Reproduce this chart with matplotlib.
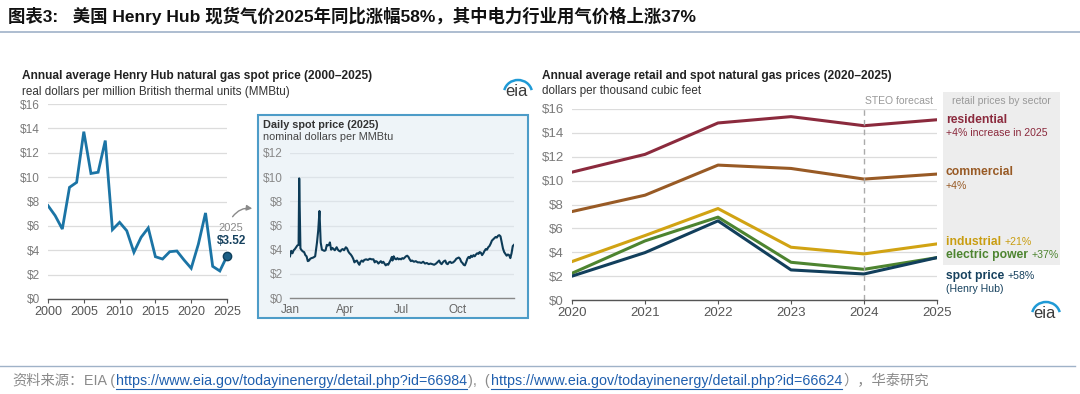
import matplotlib
matplotlib.use("Agg")
import matplotlib.pyplot as plt
from matplotlib.patches import Rectangle, FancyArrowPatch, Arc
from matplotlib.lines import Line2D

plt.rcParams['font.family'] = ['Liberation Sans', 'Noto Sans CJK SC', 'DejaVu Sans']

# ---- data ----
years = list(range(2000, 2026))
hh_real = [7.66, 6.84, 5.74, 9.16, 9.57, 13.73, 10.30, 10.40, 13.00, 5.69,
           6.29, 5.60, 3.83, 5.06, 5.83, 3.47, 3.28, 3.88, 3.94, 3.20,
           2.52, 4.50, 7.06, 2.68, 2.30, 3.52]

daily_day = [0, 2, 4, 6, 8, 10, 12, 14, 15, 17, 19, 21, 23, 25, 27, 29, 31, 33, 35, 38,
             41, 44, 46, 48, 50, 52, 54, 56, 58, 60, 62, 64, 65, 67, 69, 71, 73, 76, 78, 80,
             82, 84, 86, 88, 91, 93, 95, 97, 99, 101, 103, 105, 107, 109, 111, 113, 115, 117, 119, 121,
             124, 127, 130, 133, 136, 138, 140, 142, 144, 146, 148, 150, 152, 154, 156, 158, 160, 162, 164, 166,
             167, 169, 171, 173, 175, 177, 179, 181, 183, 185, 187, 189, 191, 193, 195, 197, 199, 202, 205, 208,
             211, 214, 217, 220, 223, 226, 229, 232, 235, 238, 241, 243, 245, 247, 249, 251, 253, 255, 257, 259,
             261, 263, 266, 269, 271, 273, 275, 277, 279, 281, 283, 285, 287, 289, 291, 293, 295, 297, 299, 301,
             303, 305, 307, 309, 311, 313, 315, 317, 319, 321, 323, 325, 327, 329, 331, 333, 335, 337, 339, 341,
             343, 345, 347, 349, 351, 353, 355, 357, 359, 361, 363, 365]
daily_price = [3.45, 3.90, 3.70, 3.95, 4.05, 4.20, 4.35, 4.40, 9.90, 4.10, 3.95, 3.85, 3.80, 3.55, 3.45, 3.05, 3.10, 3.25, 3.30, 3.35,
               3.45, 4.60, 5.60, 7.20, 4.60, 4.00, 3.95, 3.90, 3.95, 4.40, 4.35, 4.45, 4.60, 4.00, 4.15, 4.05, 3.95, 4.20, 4.00, 3.90,
               3.85, 4.00, 4.05, 3.95, 4.20, 4.10, 3.85, 3.70, 3.60, 3.45, 3.25, 2.95, 3.05, 3.10, 2.90, 2.75, 3.00, 3.10, 3.00, 3.15,
               3.20, 3.15, 3.25, 3.20, 3.20, 2.95, 3.05, 3.00, 2.85, 2.95, 3.05, 2.90, 3.00, 2.85, 2.70, 2.80, 2.75, 2.95, 3.15, 3.40,
               3.10, 3.45, 3.25, 3.20, 3.30, 3.20, 3.25, 3.20, 3.30, 3.25, 3.35, 3.45, 3.50, 3.40, 3.20, 3.05, 3.10, 3.00, 3.05, 2.95,
               2.95, 2.90, 3.00, 2.85, 2.90, 2.80, 2.85, 2.80, 2.75, 2.85, 3.00, 3.10, 2.90, 2.80, 2.95, 3.05, 3.10, 2.85, 2.80, 2.95,
               3.00, 2.90, 2.95, 3.10, 3.25, 3.30, 3.35, 3.25, 3.00, 2.90, 2.75, 2.70, 2.95, 3.25, 3.40, 3.30, 3.50, 3.40, 3.55, 3.45,
               3.60, 3.70, 3.65, 3.80, 3.75, 3.55, 3.70, 3.90, 4.05, 4.00, 4.20, 4.30, 4.50, 4.75, 4.85, 4.95, 5.05, 5.00, 5.15, 5.20,
               5.10, 4.60, 4.10, 3.80, 3.65, 3.50, 3.60, 3.55, 3.30, 3.70, 4.30, 4.40]
month_ticks = [0, 90, 181, 273]
month_labels = ['Jan', 'Apr', 'Jul', 'Oct']

sector_years = [2020, 2021, 2022, 2023, 2024, 2025]
residential = [10.71, 12.20, 14.83, 15.36, 14.60, 15.10]
commercial = [7.41, 8.78, 11.30, 11.02, 10.13, 10.55]
industrial = [3.22, 5.40, 7.66, 4.42, 3.86, 4.70]
electric = [2.24, 4.95, 6.94, 3.16, 2.57, 3.55]
spot = [2.00, 3.97, 6.63, 2.52, 2.18, 3.55]

W, H = 1080, 394
fig = plt.figure(figsize=(W / 100, H / 100), dpi=100)
fig.patch.set_facecolor('white')


def fx(x):
    return x / W


def fy(y):
    return 1 - y / H


def ax_at(x0, y0, x1, y1):
    # pixel box -> axes
    return fig.add_axes([fx(x0), fy(y1), fx(x1) - fx(x0), fy(y0) - fy(y1)])


def style(ax, ymax, tick_col='#7a7a7a', fs=8.5):
    for s in ['top', 'right', 'left']:
        ax.spines[s].set_visible(False)
    ax.spines['bottom'].set_color('#555555')
    ax.spines['bottom'].set_linewidth(1.0)
    ax.set_ylim(0, ymax)
    ax.yaxis.grid(True, color='#dcdcdc', linewidth=0.9)
    ax.set_axisbelow(True)
    ax.tick_params(axis='y', length=0, labelsize=fs, labelcolor=tick_col, pad=6)
    ax.tick_params(axis='x', length=3, color='#555555', labelsize=fs + 0.5, labelcolor='#555555', pad=2)


renderer = fig.canvas.get_renderer()


def seq_text(x, y, parts, gap=0, **kw):
    for s, props in parts:
        t = fig.text(fx(x), fy(y), s, va='center', ha='left', **kw, **props)
        bb = t.get_window_extent(renderer=renderer)
        x += bb.width + gap
    return x


# ---- header ----
fig.text(fx(8), fy(16), '图表3:   美国 Henry Hub 现货气价2025年同比涨幅58%，其中电力行业用气价格上涨37%',
         fontsize=12.5, fontweight='bold', va='center', ha='left', color='#111111')
fig.add_artist(Line2D([fx(0), fx(1080)], [fy(32), fy(32)], color='#9fb2c8', linewidth=1.2))
fig.add_artist(Line2D([fx(0), fx(1075)], [fy(366), fy(366)], color='#9fb2c8', linewidth=1.0))

# ---- left chart: annual Henry Hub ----
fig.text(fx(22), fy(76), 'Annual average Henry Hub natural gas spot price (2000–2025)',
         fontsize=8.6, fontweight='bold', color='#222222', va='center')
fig.text(fx(22), fy(92), 'real dollars per million British thermal units (MMBtu)',
         fontsize=8.4, color='#333333', va='center')

ax1 = ax_at(48, 104, 227, 299)
ax1.plot(years, hh_real, color='#1b74a5', linewidth=2.0, solid_joinstyle='miter')
ax1.plot(years[-1], hh_real[-1], 'o', color='#1d5f85', markersize=6, markeredgecolor='#0e3f5c', clip_on=False)
ax1.set_xlim(2000, 2025)
style(ax1, 16)
ax1.set_yticks(range(0, 17, 2))
ax1.set_yticklabels([f'${v}' for v in range(0, 17, 2)])
ax1.set_xticks(range(2000, 2026, 5))
ax1.annotate('2025', (years[-1], hh_real[-1]), xytext=(3, 20), textcoords='offset points',
             ha='center', va='center', fontsize=8, color='#888888')
ax1.annotate(f'${hh_real[-1]:.2f}', (years[-1], hh_real[-1]), xytext=(3, 11), textcoords='offset points',
             ha='center', va='center', fontsize=8.5, fontweight='bold', color='#16415e')

fig.add_artist(FancyArrowPatch((fx(231), fy(219)), (fx(255), fy(209)), transform=fig.transFigure,
                               connectionstyle='arc3,rad=-0.35', arrowstyle='-|>', mutation_scale=8,
                               color='#8a8a8a', linewidth=1.0))

# ---- inset: daily price ----
fig.add_artist(Rectangle((fx(258), fy(318)), fx(528) - fx(258), fy(115) - fy(318),
                         transform=fig.transFigure, facecolor='#eef4f8', edgecolor='#4d9cc8',
                         linewidth=1.5, zorder=-1))
fig.text(fx(263), fy(125), 'Daily spot price (2025)', fontsize=7.8, fontweight='bold', color='#333333', va='center')
fig.text(fx(263), fy(137), 'nominal dollars per MMBtu', fontsize=7.8, color='#444444', va='center')
ax2 = ax_at(290, 153, 514, 298)
ax2.patch.set_alpha(0)
ax2.plot(daily_day, daily_price, color='#0d3b57', linewidth=1.5)
ax2.set_xlim(0, 365)
style(ax2, 12, fs=8.5)
ax2.spines['bottom'].set_color('#888888')
ax2.yaxis.grid(True, color='#dde3e8', linewidth=0.9)
ax2.set_yticks(range(0, 13, 2))
ax2.set_yticklabels([f'${v}' for v in range(0, 13, 2)])
ax2.set_xticks(month_ticks)
ax2.set_xticklabels(month_labels)
ax2.tick_params(axis='x', length=0, labelsize=8.5, labelcolor='#666666', pad=4)
ax2.tick_params(axis='y', labelsize=8.5, labelcolor='#888888', pad=5)


# ---- eia logos ----
def eia_logo(cx, cy, fs):
    fig.text(fx(cx), fy(cy), 'eia', fontsize=fs, color='#3a3a3a', ha='center', va='center')
    fig.add_artist(Arc((fx(cx + 2), fy(cy + 2)), fx(28), 2 * (fy(cy - 11) - fy(cy + 2)),
                       theta1=30, theta2=150, transform=fig.transFigure, color='#1f9ad6', linewidth=1.8))


eia_logo(516, 91, 12)
eia_logo(1044, 313, 12)

# ---- right chart: retail and spot ----
fig.text(fx(542), fy(76), 'Annual average retail and spot natural gas prices (2020–2025)',
         fontsize=8.6, fontweight='bold', color='#222222', va='center')
fig.text(fx(542), fy(91), 'dollars per thousand cubic feet', fontsize=8.4, color='#333333', va='center')

fig.add_artist(Rectangle((fx(943), fy(265)), fx(1060) - fx(943), fy(92) - fy(265),
                         transform=fig.transFigure, facecolor='#ededed', edgecolor='none', zorder=-1))
fig.text(fx(1001), fy(101), 'retail prices by sector', fontsize=7.5, color='#999999', ha='center', va='center')

ax3 = ax_at(572, 109, 937, 300)
ax3.patch.set_alpha(0)
ax3.plot(sector_years, residential, color='#8b2a3d', linewidth=2.2)
ax3.plot(sector_years, commercial, color='#985a25', linewidth=2.2)
ax3.plot(sector_years, industrial, color='#d1a313', linewidth=2.2)
ax3.plot(sector_years, electric, color='#4d8430', linewidth=2.2)
ax3.plot(sector_years, spot, color='#123f5c', linewidth=2.2)
ax3.set_xlim(2020, 2025)
style(ax3, 16, fs=9.5)
ax3.set_yticks(range(0, 17, 2))
ax3.set_yticklabels([f'${v}' for v in range(0, 17, 2)])
ax3.set_xticks(sector_years)
ax3.tick_params(axis='x', labelsize=9.5)
ax3.axvline(2024, color='#aaaaaa', linestyle=(0, (4, 3)), linewidth=1.0)
fig.text(fx(933), fy(101), 'STEO forecast', fontsize=7.5, color='#999999', ha='right', va='center')

lx = 946
seq_text(lx, 120, [('residential', dict(fontweight='bold', color='#8b2a3d'))], fontsize=8.7)
seq_text(lx, 133, [('+4% increase in 2025', dict(color='#8b2a3d'))], fontsize=7.6)
seq_text(lx, 172, [('commercial', dict(fontweight='bold', color='#985a25'))], fontsize=8.7)
seq_text(lx, 186, [('+4%', dict(color='#985a25'))], fontsize=7.6)
seq_text(lx, 242, [('industrial ', dict(fontweight='bold', color='#c99d10', fontsize=8.7)),
                   ('+21%', dict(color='#c99d10', fontsize=7.6))])
seq_text(lx, 255, [('electric power ', dict(fontweight='bold', color='#4d8430', fontsize=8.7)),
                   ('+37%', dict(color='#4d8430', fontsize=7.6))])
seq_text(lx, 276, [('spot price ', dict(fontweight='bold', color='#16415e', fontsize=8.7)),
                   ('+58%', dict(color='#16415e', fontsize=7.6))])
seq_text(lx, 289, [('(Henry Hub)', dict(color='#16415e'))], fontsize=7.6)

# ---- footer ----
link_col = '#1f5fae'
grey = '#8a8a8a'
ffs = 10.3
fy_foot = 381
x = seq_text(12, fy_foot, [('资料来源：', dict(color=grey)), ('EIA (', dict(color=grey))], gap=1, fontsize=ffs)
x0 = x
x = seq_text(x, fy_foot, [('https://www.eia.gov/todayinenergy/detail.php?id=66984', dict(color=link_col))], fontsize=ffs)
fig.add_artist(Line2D([fx(x0), fx(x)], [fy(389), fy(389)], color=link_col, linewidth=0.8))
x = seq_text(x + 1, fy_foot, [('),  (', dict(color=grey))], fontsize=ffs)
x0 = x + 1
x = seq_text(x0, fy_foot, [('https://www.eia.gov/todayinenergy/detail.php?id=66624', dict(color=link_col))], fontsize=ffs)
fig.add_artist(Line2D([fx(x0), fx(x)], [fy(389), fy(389)], color=link_col, linewidth=0.8))
seq_text(x + 1, fy_foot, [('），华泰研究', dict(color=grey))], fontsize=ffs)

fig.savefig('out.png', dpi=100)
